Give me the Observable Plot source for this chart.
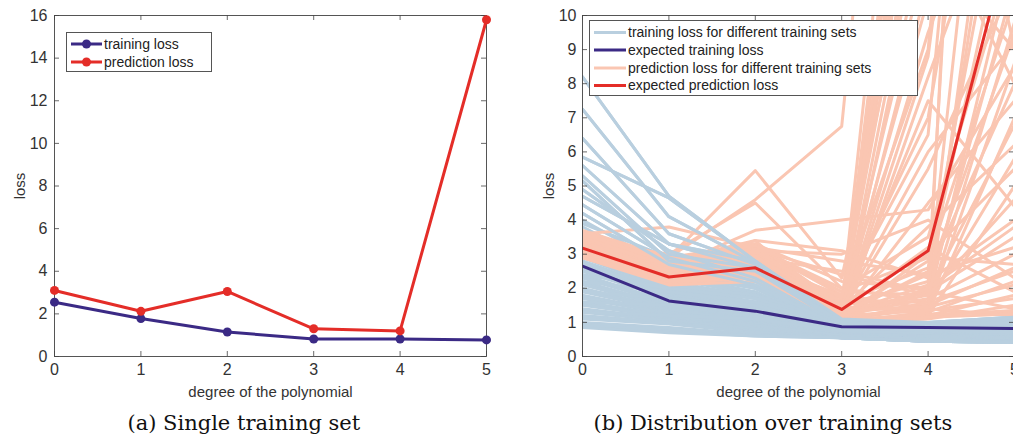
<!DOCTYPE html>
<html>
<head>
<meta charset="utf-8">
<script src="https://cdn.jsdelivr.net/npm/d3@7"></script>
<script src="https://cdn.jsdelivr.net/npm/@observablehq/plot@0.6"></script>
<style>
  html, body { margin: 0; padding: 0; background: #ffffff; }
  #wrap { position: relative; width: 1013px; height: 437px; overflow: hidden; font-family: "Liberation Sans", Arial, sans-serif; }
  .panel { position: absolute; top: 0; }
  .legend { position: absolute; background: #fff; border: 1px solid #555; box-sizing: border-box; }
  .legend svg { position: absolute; left: 0; top: 0; overflow: visible; }
  .caption { position: absolute; top: 411px; font-family: "DejaVu Serif", "Liberation Serif", serif; font-size: 21px; color: #111; text-align: center; white-space: nowrap; }
</style>
</head>
<body>
<div id="wrap"></div>
<script>
// ---------- data ----------
const degrees = [0, 1, 2, 3, 4, 5];
const leftYTicks = [0, 2, 4, 6, 8, 10, 12, 14, 16];
const rightYTicks = [0, 1, 2, 3, 4, 5, 6, 7, 8, 9, 10];

// (a) single training set
const singleTrainingLoss = [2.55, 1.78, 1.15, 0.82, 0.82, 0.78];
const singlePredictionLoss = [3.1, 2.12, 3.05, 1.3, 1.2, 15.8];

// (b) expected losses
const expectedTrainingLoss = [2.65, 1.63, 1.33, 0.87, 0.85, 0.82];
const expectedPredictionLoss = [3.18, 2.33, 2.6, 1.38, 3.1, 12.8];

// (b) training loss for different training sets (values at degrees 0..5)
const trainingSets = [
  [8.2, 4.7, 2.8, 1.05, 0.95, 0.9],
  [7.25, 4.1, 2.75, 1.0, 0.9, 0.85],
  [6.4, 3.6, 2.7, 1.0, 0.85, 0.8],
  [5.85, 4.65, 2.8, 1.1, 1.0, 1.15],
  [5.6, 3.3, 2.8, 0.95, 0.9, 0.85],
  [5.3, 3.0, 2.6, 0.9, 0.8, 0.75],
  [5.15, 2.8, 2.5, 0.95, 0.85, 0.8],
  [4.9, 3.1, 2.3, 0.9, 0.8, 0.7],
  [4.7, 3.3, 2.6, 1.0, 0.95, 1.0],
  [4.45, 2.9, 2.2, 0.85, 0.75, 0.7],
  [4.2, 2.7, 2.1, 0.85, 0.8, 0.7],
  [4.0, 2.6, 2.0, 0.8, 0.7, 0.65],
  [3.9, 2.9, 2.4, 1.0, 0.9, 0.9],
  [3.8, 2.5, 2.0, 0.8, 0.75, 0.7],
  [3.6, 2.4, 1.9, 0.8, 0.7, 0.65],
  [3.5, 2.35, 1.85, 0.8, 0.7, 0.65],
  [3.45, 2.3, 1.8, 0.75, 0.7, 0.6],
  [3.4, 2.8, 2.3, 1.05, 0.95, 1.05],
  [3.3, 2.2, 1.75, 0.8, 0.7, 0.65],
  [3.25, 2.15, 1.7, 0.78, 0.68, 0.62],
  [3.15, 2.1, 1.7, 0.75, 0.65, 0.6],
  [3.05, 2.5, 2.05, 1.0, 1.0, 1.15],
  [3.0, 2.05, 1.6, 0.7, 0.65, 0.55],
  [2.95, 2.0, 1.6, 0.72, 0.62, 0.56],
  [2.9, 1.95, 1.55, 0.75, 0.6, 0.55],
  [2.9, 2.4, 2.0, 1.0, 0.95, 1.1],
  [2.8, 1.9, 1.5, 0.7, 0.6, 0.55],
  [2.75, 1.85, 1.5, 0.72, 0.62, 0.55],
  [2.7, 1.8, 1.45, 0.7, 0.6, 0.5],
  [2.6, 1.75, 1.4, 0.7, 0.55, 0.5],
  [2.6, 2.1, 1.8, 0.95, 0.9, 1.1],
  [2.55, 1.72, 1.38, 0.68, 0.58, 0.52],
  [2.5, 1.7, 1.35, 0.65, 0.55, 0.5],
  [2.4, 1.6, 1.3, 0.7, 0.6, 0.55],
  [2.4, 2.0, 1.7, 0.92, 0.88, 1.05],
  [2.35, 1.6, 1.28, 0.68, 0.58, 0.52],
  [2.3, 1.55, 1.25, 0.65, 0.55, 0.5],
  [2.2, 1.5, 1.2, 0.65, 0.5, 0.45],
  [2.2, 1.9, 1.6, 0.9, 0.85, 1.0],
  [2.15, 1.48, 1.18, 0.63, 0.52, 0.47],
  [2.1, 1.45, 1.15, 0.6, 0.5, 0.45],
  [2.0, 1.4, 1.1, 0.65, 0.55, 0.5],
  [1.95, 1.38, 1.08, 0.62, 0.52, 0.47],
  [1.9, 1.35, 1.05, 0.6, 0.5, 0.45],
  [1.9, 1.7, 1.5, 0.85, 0.8, 0.95],
  [1.8, 1.3, 1.0, 0.6, 0.5, 0.45],
  [1.75, 1.28, 0.98, 0.6, 0.5, 0.45],
  [1.7, 1.25, 0.95, 0.6, 0.5, 0.45],
  [1.6, 1.2, 0.95, 0.55, 0.5, 0.45],
  [1.6, 1.5, 1.3, 0.8, 0.75, 0.9],
  [1.55, 1.18, 0.92, 0.58, 0.48, 0.44],
  [1.5, 1.15, 0.9, 0.6, 0.5, 0.45],
  [1.4, 1.1, 0.85, 0.55, 0.45, 0.45],
  [1.35, 1.08, 0.82, 0.56, 0.46, 0.43],
  [1.3, 1.05, 0.8, 0.55, 0.45, 0.42],
  [1.3, 1.2, 1.1, 0.75, 0.7, 0.85],
  [1.2, 1.0, 0.75, 0.55, 0.45, 0.42],
  [1.15, 0.98, 0.72, 0.55, 0.45, 0.42],
  [1.1, 0.95, 0.7, 0.55, 0.45, 0.42],
  [1.0, 0.85, 0.65, 0.55, 0.45, 0.42],
  [0.95, 0.8, 0.62, 0.55, 0.45, 0.42],
  [0.9, 0.75, 0.6, 0.55, 0.45, 0.42],
  [0.85, 0.7, 0.6, 0.55, 0.45, 0.42]
];

// (b) prediction loss for different training sets (values at degrees 0..5)
const predictionSets = [
  [3.6, 3.8, 3.2, 2.0, 1.6, 2.5],
  [3.7, 2.9, 4.6, 6.75, 32, 40],
  [3.5, 2.9, 5.45, 2.3, 14, 30],
  [3.4, 3.0, 4.5, 2.0, 3.5, 12],
  [3.3, 2.6, 3.7, 4.0, 4.3, 8.5],
  [3.2, 2.5, 3.4, 3.1, 2.3, 9.5],
  [3.55, 2.7, 3.3, 1.5, 25, 18],
  [3.45, 2.6, 3.1, 1.4, 20, 30],
  [3.35, 2.5, 3.0, 1.3, 18, 12],
  [3.25, 2.45, 2.9, 1.6, 16, 40],
  [3.15, 2.4, 2.8, 1.2, 14, 25],
  [3.05, 2.35, 2.75, 1.5, 12, 9],
  [2.95, 2.3, 2.7, 1.1, 11, 20],
  [3.6, 2.8, 3.2, 1.8, 9, 35],
  [3.5, 2.7, 3.0, 1.0, 8.2, 15],
  [3.4, 2.6, 2.9, 1.7, 7, 22],
  [3.3, 2.5, 2.8, 1.3, 5.5, 11],
  [3.2, 2.4, 2.6, 1.2, 4.5, 7.5],
  [3.1, 2.3, 2.5, 1.4, 3.8, 6.2],
  [3.0, 2.2, 2.4, 1.1, 3.0, 5.5],
  [2.9, 2.15, 2.3, 1.2, 2.5, 14],
  [3.65, 2.9, 3.3, 2.2, 2.0, 25],
  [3.45, 2.75, 3.1, 1.9, 1.8, 18],
  [3.35, 2.55, 2.9, 1.6, 1.6, 12],
  [3.25, 2.4, 2.7, 1.3, 1.5, 9.8],
  [3.15, 2.35, 2.6, 1.1, 1.4, 8.6],
  [3.05, 2.25, 2.5, 1.0, 1.3, 7.0],
  [2.95, 2.2, 2.3, 1.0, 1.2, 5.0],
  [3.55, 2.65, 3.0, 1.5, 2.2, 4.0],
  [3.4, 2.5, 2.8, 1.3, 1.9, 3.5],
  [3.3, 2.45, 2.6, 1.2, 1.7, 3.0],
  [3.2, 2.35, 2.5, 1.1, 1.5, 2.6],
  [3.1, 2.3, 2.4, 1.0, 1.3, 2.2],
  [3.0, 2.2, 2.3, 1.05, 1.2, 1.8],
  [2.9, 2.1, 2.2, 1.0, 1.1, 1.5],
  [3.5, 2.6, 3.2, 2.8, 2.4, 3.2],
  [3.3, 2.4, 2.9, 2.5, 1.9, 1.4],
  [3.1, 2.3, 2.7, 1.8, 1.4, 1.2],
  [3.6, 2.8, 3.4, 1.2, 21, 9],
  [3.25, 2.5, 2.6, 1.15, 9.5, 16],
  [3.0, 2.25, 2.45, 1.1, 8.8, 28],
  [3.15, 2.4, 2.55, 1.25, 2.1, 45],
  [2.95, 2.2, 2.35, 1.05, 1.5, 50],
  [3.4, 2.55, 2.75, 1.35, 3.2, 1.9],
  [3.2, 2.4, 2.6, 1.6, 1.25, 1.3],
  [3.35, 2.6, 2.85, 1.2, 17, 22],
  [3.1, 2.35, 2.65, 1.3, 22, 14],
  [3.45, 2.65, 3.05, 1.45, 17, 38],
  [3.25, 2.45, 2.75, 1.0, 13, 8],
  [3.05, 2.3, 2.55, 1.55, 15, 26],
  [3.5, 2.7, 2.95, 1.15, 19, 11],
  [3.3, 2.5, 2.85, 1.75, 6.5, 33],
  [3.15, 2.45, 2.7, 1.4, 10.5, 19],
  [3.0, 2.3, 2.5, 1.2, 2.8, 10.5],
  [3.4, 2.6, 2.8, 1.3, 2.4, 8.0],
  [3.2, 2.45, 2.65, 1.15, 1.9, 6.8],
  [3.1, 2.35, 2.5, 1.05, 1.6, 5.8],
  [3.55, 2.75, 3.1, 1.6, 2.6, 16],
  [3.35, 2.55, 2.9, 1.45, 1.35, 20],
  [3.25, 2.5, 2.8, 1.25, 1.8, 4.6],
  [2.95, 2.25, 2.4, 1.1, 2.0, 3.8],
  [3.65, 2.85, 3.25, 1.9, 2.9, 2.7],
  [3.45, 2.65, 2.95, 1.35, 1.45, 2.1],
  [3.15, 2.4, 2.6, 1.2, 1.35, 1.7],
  [3.05, 2.3, 2.45, 1.1, 1.2, 1.35],
  [3.3, 2.5, 2.75, 1.4, 6.0, 9.2],
  [3.2, 2.4, 2.6, 1.3, 7.5, 4.4],
  [3.6, 2.75, 3.15, 2.4, 1.8, 11],
  [3.5, 2.65, 3.1, 3.0, 4.0, 2.3],
  [2.9, 2.2, 2.3, 1.0, 1.15, 1.25]
];

// ---------- styles ----------
const C = {
  train: "#3b2a85",
  pred: "#e42d28",
  trainLight: "#b9cfdf",
  predLight: "#fac6b2",
  axis: "#444444",
  text: "#333333"
};

// ---------- helpers ----------
const toRows = (vals) => degrees.map((d, i) => ({degree: d, loss: vals[i]}));
const setsToRows = (sets) => sets.flatMap((s, k) => degrees.map((d, i) => ({set: k, degree: d, loss: s[i]})));

function boxTicks(yTicks, plotW, plotH, len) {
  return [
    Plot.tickX(degrees, {x: d => d, stroke: C.axis, strokeWidth: 0.8, insetTop: plotH - len}),
    Plot.tickX(degrees, {x: d => d, stroke: C.axis, strokeWidth: 0.8, insetBottom: plotH - len}),
    Plot.tickY(yTicks, {y: d => d, stroke: C.axis, strokeWidth: 0.8, insetRight: plotW - len}),
    Plot.tickY(yTicks, {y: d => d, stroke: C.axis, strokeWidth: 0.8, insetLeft: plotW - len}),
    Plot.frame({stroke: C.axis, strokeWidth: 0.9})
  ];
}

const wrap = document.getElementById("wrap");
const baseStyle = {fontFamily: "'Liberation Sans', Arial, sans-serif", fontSize: "16px", color: C.text, background: "transparent", overflow: "visible"};

// ---------- (a) ----------
{
  const W = 500, H = 400, mL = 54, mR = 14, mT = 15, mB = 44;
  const chart = Plot.plot({
    width: W, height: H,
    marginLeft: mL, marginRight: mR, marginTop: mT, marginBottom: mB,
    style: baseStyle,
    x: {domain: [0, 5]},
    y: {domain: [0, 16]},
    marks: [
      Plot.axisX({ticks: degrees, tickSize: 0, tickPadding: 7, tickFormat: d3.format("d"), label: null, fontSize: 16}),
      Plot.axisX({ticks: [], tickSize: 0, label: "degree of the polynomial", labelAnchor: "center", labelArrow: "none", labelOffset: 40, fontSize: 15}),
      Plot.axisY({ticks: leftYTicks, tickSize: 0, tickPadding: 7, label: null, fontSize: 16}),
      Plot.axisY({ticks: [], tickSize: 0, label: "loss", labelAnchor: "center", labelArrow: "none", labelOffset: 40, fontSize: 15}),
      ...boxTicks(leftYTicks, W - mL - mR, H - mT - mB, 5),
      Plot.line(toRows(singleTrainingLoss), {x: "degree", y: "loss", stroke: C.train, strokeWidth: 3}),
      Plot.dot(toRows(singleTrainingLoss), {x: "degree", y: "loss", fill: C.train, r: 4.5}),
      Plot.line(toRows(singlePredictionLoss), {x: "degree", y: "loss", stroke: C.pred, strokeWidth: 3}),
      Plot.dot(toRows(singlePredictionLoss), {x: "degree", y: "loss", fill: C.pred, r: 4.5})
    ]
  });
  chart.classList.add("panel");
  chart.style.left = "0px";
  wrap.appendChild(chart);
}

// ---------- (b) ----------
{
  const W = 530, H = 400, mL = 82, mR = 16, mT = 15, mB = 44;
  const trainRows = setsToRows(trainingSets);
  const predRows = setsToRows(predictionSets);
  const chart = Plot.plot({
    width: W, height: H,
    marginLeft: mL, marginRight: mR, marginTop: mT, marginBottom: mB,
    style: baseStyle,
    x: {domain: [0, 5]},
    y: {domain: [0, 10]},
    marks: [
      Plot.axisX({ticks: degrees, tickSize: 0, tickPadding: 7, tickFormat: d3.format("d"), label: null, fontSize: 16}),
      Plot.axisX({ticks: [], tickSize: 0, label: "degree of the polynomial", labelAnchor: "center", labelArrow: "none", labelOffset: 40, fontSize: 15}),
      Plot.axisY({ticks: rightYTicks, tickSize: 0, tickPadding: 6, label: null, fontSize: 16}),
      Plot.axisY({ticks: [], tickSize: 0, label: "loss", labelAnchor: "center", labelArrow: "none", labelOffset: 39, fontSize: 15}),
      Plot.line(trainRows, {x: "degree", y: "loss", z: "set", stroke: C.trainLight, strokeWidth: 3, clip: true}),
      Plot.line(predRows, {x: "degree", y: "loss", z: "set", stroke: C.predLight, strokeWidth: 3, clip: true}),
      Plot.line(trainRows, {filter: d => trainingSets[d.set][0] > 4, x: "degree", y: "loss", z: "set", stroke: C.trainLight, strokeWidth: 3, clip: true}),
      Plot.line(toRows(expectedTrainingLoss), {x: "degree", y: "loss", stroke: C.train, strokeWidth: 3, clip: true}),
      Plot.line(toRows(expectedPredictionLoss), {x: "degree", y: "loss", stroke: C.pred, strokeWidth: 3, clip: true}),
      ...boxTicks(rightYTicks, W - mL - mR, H - mT - mB, 5)
    ]
  });
  chart.classList.add("panel");
  chart.style.left = "500px";
  wrap.appendChild(chart);
}

// ---------- legends ----------
function legend(left, top, width, height, items, rowY, sw) {
  const div = document.createElement("div");
  div.className = "legend";
  Object.assign(div.style, {left: left + "px", top: top + "px", width: width + "px", height: height + "px"});
  const ns = "http://www.w3.org/2000/svg";
  const svg = document.createElementNS(ns, "svg");
  svg.setAttribute("width", width); svg.setAttribute("height", height);
  items.forEach((it, i) => {
    const y = rowY[i];
    const line = document.createElementNS(ns, "line");
    line.setAttribute("x1", sw.x1); line.setAttribute("x2", sw.x2);
    line.setAttribute("y1", y); line.setAttribute("y2", y);
    line.setAttribute("stroke", it.color); line.setAttribute("stroke-width", 3);
    svg.appendChild(line);
    if (it.dot) {
      const c = document.createElementNS(ns, "circle");
      c.setAttribute("cx", (sw.x1 + sw.x2) / 2); c.setAttribute("cy", y); c.setAttribute("r", 4.5);
      c.setAttribute("fill", it.color);
      svg.appendChild(c);
    }
    const t = document.createElementNS(ns, "text");
    t.setAttribute("x", sw.x2 + 2); t.setAttribute("y", y);
    t.setAttribute("dy", "0.35em");
    t.setAttribute("font-size", "14px");
    t.setAttribute("font-family", "'Liberation Sans', Arial, sans-serif");
    t.setAttribute("fill", "#222");
    t.textContent = it.label;
    svg.appendChild(t);
  });
  div.appendChild(svg);
  wrap.appendChild(div);
}

legend(66, 32, 146, 40,
  [{label: "training loss", color: C.train, dot: true}, {label: "prediction loss", color: C.pred, dot: true}],
  [11, 29], {x1: 4, x2: 35});

legend(589, 20, 329, 76,
  [{label: "training loss for different training sets", color: C.trainLight},
   {label: "expected training loss", color: C.train},
   {label: "prediction loss for different training sets", color: C.predLight},
   {label: "expected prediction loss", color: C.pred}],
  [11.5, 29, 47, 64.5], {x1: 4, x2: 36});

// ---------- captions ----------
function caption(text, center) {
  const d = document.createElement("div");
  d.className = "caption";
  d.textContent = text;
  wrap.appendChild(d);
  d.style.left = (center - d.offsetWidth / 2) + "px";
}
caption("(a) Single training set", 244);
caption("(b) Distribution over training sets", 773);
</script>
</body>
</html>
